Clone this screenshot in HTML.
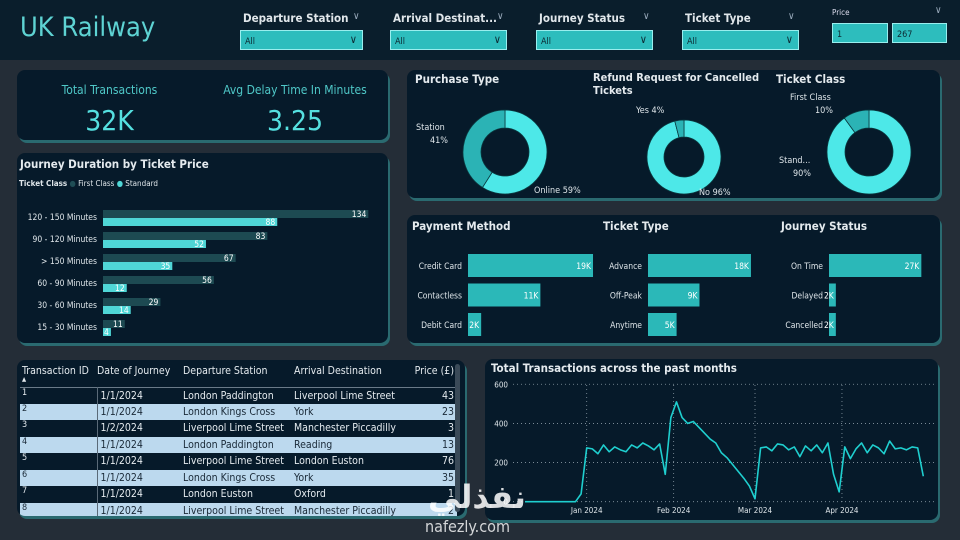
<!DOCTYPE html>
<html><head><meta charset="utf-8">
<style>
*{box-sizing:border-box;margin:0;padding:0}
body{width:960px;height:540px;background:#242d37;font-family:"DejaVu Sans Condensed","Liberation Sans",sans-serif;color:#dfe6ea;position:relative;overflow:hidden}
.abs{position:absolute}
.panel{position:absolute;background:#061a2a;border-radius:8px;box-shadow:2px 3px 0 #2a6a70}
.header{left:0;top:0;width:960px;height:60px;background:#0a1e2c}
.slicer-label{position:absolute;font-size:11.5px;font-weight:bold;color:#e0e6ea}
.slicer-box{position:absolute;height:20px;background:#2dbdbd;border:1px solid #9ee;font-size:9px;color:#0b2a33;padding:6px 0 0 4px}
.slicer-box span{position:absolute;right:5px;top:2px;font-size:11px;color:#0b2a33}
.chev{position:absolute;font-size:10px;color:#9ab}
.title{position:absolute;font-size:11.5px;font-weight:bold;color:#e4eaee}
svg text{font-family:"DejaVu Sans Condensed","Liberation Sans",sans-serif}
table{border-collapse:collapse;font-size:10.5px}
</style></head><body>
<div class="abs header"></div>
<div class="abs" style="left:20px;top:12px;font-size:27px;color:#5ed3d3">UK Railway</div>

<div class="slicer-label" style="left:243px;top:11px">Departure Station</div>
<div class="chev" style="left:353px;top:11px">∨</div>
<div class="slicer-box" style="left:240px;top:30px;width:123px">All<span>∨</span></div>
<div class="slicer-label" style="left:393px;top:11px">Arrival Destinat...</div>
<div class="chev" style="left:497px;top:11px">∨</div>
<div class="slicer-box" style="left:390px;top:30px;width:117px">All<span>∨</span></div>
<div class="slicer-label" style="left:539px;top:11px">Journey Status</div>
<div class="chev" style="left:643px;top:11px">∨</div>
<div class="slicer-box" style="left:536px;top:30px;width:117px">All<span>∨</span></div>
<div class="slicer-label" style="left:685px;top:11px">Ticket Type</div>
<div class="chev" style="left:788px;top:11px">∨</div>
<div class="slicer-box" style="left:682px;top:30px;width:117px">All<span>∨</span></div>
<div class="abs" style="left:832px;top:8px;font-size:8px;color:#dde">Price</div>
<div class="chev" style="left:935px;top:5px">∨</div>
<div class="slicer-box" style="left:832px;top:23px;width:56px">1</div>
<div class="slicer-box" style="left:892px;top:23px;width:55px">267</div>

<div class="panel" style="left:17px;top:70px;width:371px;height:70px">
  <div class="abs" style="left:0;width:185px;top:13px;text-align:center;font-size:12px;color:#4fc8c8">Total Transactions</div>
  <div class="abs" style="left:0;width:185px;top:34px;text-align:center;font-size:28px;color:#55e0e0">32K</div>
  <div class="abs" style="left:185px;width:186px;top:13px;text-align:center;font-size:12px;color:#4fc8c8">Avg Delay Time In Minutes</div>
  <div class="abs" style="left:185px;width:186px;top:34px;text-align:center;font-size:28px;color:#55e0e0">3.25</div>
</div>

<div class="panel" style="left:17px;top:153px;width:371px;height:190px">
  <div class="title" style="left:3px;top:4px">Journey Duration by Ticket Price</div>
  <div class="abs" style="left:2px;top:26px;font-size:8px"><b>Ticket Class</b> <span style="color:#1f4d55">●</span> First Class <span style="color:#4fd6d6">●</span> Standard</div>
</div>
<div class="panel" style="left:407px;top:70px;width:533px;height:128px">
  <div class="title" style="left:8px;top:2px">Purchase Type</div>
  <div class="title" style="left:186px;top:1px;line-height:13px;font-size:11px">Refund Request for Cancelled<br>Tickets</div>
  <div class="title" style="left:369px;top:2px">Ticket Class</div>
</div>
<div class="panel" style="left:407px;top:215px;width:533px;height:128px">
  <div class="title" style="left:5px;top:4px">Payment Method</div>
  <div class="title" style="left:196px;top:4px">Ticket Type</div>
  <div class="title" style="left:374px;top:4px">Journey Status</div>
</div>

<div class="panel" style="left:17px;top:360px;width:448px;height:156px;overflow:hidden">
  <table id="tbl" style="position:absolute;left:3px;top:5px;width:437px"></table>
  <div class="abs" style="left:438px;top:4px;width:5px;height:148px;background:#3a4a58;border-radius:3px"></div>
</div>

<div class="panel" style="left:485px;top:359px;width:453px;height:161px">
  <div class="title" style="left:6px;top:2px">Total Transactions across the past months</div>
</div>

<svg id="svg" class="abs" style="left:0;top:0" width="960" height="540"></svg>

<div class="abs" style="left:428px;top:478px;font-size:32px;font-weight:bold;color:rgba(255,255,255,0.85);font-family:'DejaVu Sans',sans-serif">نفذلي</div>
<div class="abs" style="left:425px;top:517px;font-size:16px;color:rgba(255,255,255,0.8)">nafezly.com</div>

<script>
const durCats=["120 - 150 Minutes","90 - 120 Minutes","> 150 Minutes","60 - 90 Minutes","30 - 60 Minutes","15 - 30 Minutes"];
const durFirst=[134,83,67,56,29,11];
const durStd=[88,52,35,12,14,4];
const purchaseLabels=["Online","Station"];const purchaseVals=[59,41];
const refundLabels=["No","Yes"];const refundVals=[96,4];
const classLabels=["Standard","First Class"];const classVals=[90,10];
const payCats=["Credit Card","Contactless","Debit Card"];const payVals=[19,11,2];
const typeCats=["Advance","Off-Peak","Anytime"];const typeVals=[18,9,5];
const statusCats=["On Time","Delayed","Cancelled"];const statusVals=[27,2,2];
const lineVals=[0,0,0,0,0,0,0,0,0,0,40,275,270,245,290,255,280,265,255,290,275,300,285,265,295,140,430,510,430,400,410,380,350,320,300,250,225,190,155,120,80,15,275,280,260,295,290,265,280,230,285,260,290,250,300,140,50,280,220,270,300,250,290,275,245,310,270,275,265,280,275,130];
const yTicks=[0,200,400,600];
const monthLabels=["Jan 2024","Feb 2024","Mar 2024","Apr 2024"];
const monthDays=[22,53,82,113];
const rows=[["1","1/1/2024","London Paddington","Liverpool Lime Street","43"],["2","1/1/2024","London Kings Cross","York","23"],["3","1/2/2024","Liverpool Lime Street","Manchester Piccadilly","3"],["4","1/1/2024","London Paddington","Reading","13"],["5","1/1/2024","Liverpool Lime Street","London Euston","76"],["6","1/1/2024","London Kings Cross","York","35"],["7","1/1/2024","London Euston","Oxford","1"],["8","1/1/2024","Liverpool Lime Street","Manchester Piccadilly","2"]];

const NS="http://www.w3.org/2000/svg";const svg=document.getElementById('svg');
function el(t,a,p){const e=document.createElementNS(NS,t);for(const k in a)e.setAttribute(k,a[k]);(p||svg).appendChild(e);return e}
function txt(x,y,s,size,fill,anchor,name){const t=el('text',{x:x,y:y,'font-size':size,fill:fill,'text-anchor':anchor||'start'});t.textContent=s;

return t}

const dx=v=>103+v*1.98;
durCats.forEach((c,i)=>{const y0=210+i*22;
 txt(97,y0+10,c,8.5,'#dfe6ea','end','duration-category-label');
 const b1=el('rect',{x:103,y:y0,width:dx(durFirst[i])-103,height:8,fill:'#1d4a52'});
 
 
 const b2=el('rect',{x:103,y:y0+8,width:dx(durStd[i])-103,height:8,fill:'#4fd6d6'});
 
 
 txt(dx(durFirst[i])-2,y0+7,String(durFirst[i]),8.5,'#fff','end','value-label-first');
 txt(dx(durStd[i])-2,y0+15,String(durStd[i]),8.5,'#fff','end','value-label-standard');
});

function donut(cx,cy,R,r,vals,cols,name){let tot=vals.reduce((a,b)=>a+b,0),a0=-Math.PI/2;
 vals.forEach((v,i)=>{const a1=a0+v/tot*2*Math.PI,lg=(a1-a0)>Math.PI?1:0;
  const p=`M${cx+R*Math.cos(a0)},${cy+R*Math.sin(a0)} A${R},${R} 0 ${lg} 1 ${cx+R*Math.cos(a1)},${cy+R*Math.sin(a1)} L${cx+r*Math.cos(a1)},${cy+r*Math.sin(a1)} A${r},${r} 0 ${lg} 0 ${cx+r*Math.cos(a0)},${cy+r*Math.sin(a0)}Z`;
  const s=el('path',{d:p,fill:cols[i],stroke:'#0a3a40','stroke-width':0.8});
  
  
  a0=a1;});}
const cL='#4de8e8',cD='#2bb3b5';
donut(505,152,42,24,purchaseVals,[cL,cD],'purchase-type');
donut(684,157,37,20,refundVals,[cL,cD],'refund');
donut(869,152,42,24,classVals,[cL,cD],'ticket-class');
txt(416,130,purchaseLabels[1],9,'#dfe6ea','start','station-label');txt(448,143,purchaseVals[1]+'%',9,'#dfe6ea','end','station-pct');
txt(534,193,purchaseLabels[0]+' '+purchaseVals[0]+'%',9,'#dfe6ea','start','online-label');
txt(636,113,refundLabels[1]+' '+refundVals[1]+'%',9,'#dfe6ea','start','yes-label');
txt(699,195,refundLabels[0]+' '+refundVals[0]+'%',9,'#dfe6ea','start','no-label');
txt(790,100,classLabels[1],9,'#dfe6ea','start','first-class-label');txt(833,113,classVals[1]+'%',9,'#dfe6ea','end','first-class-pct');
txt(779,163,'Stand...',9,'#dfe6ea','start','standard-label');txt(811,176,classVals[0]+'%',9,'#dfe6ea','end','standard-pct');

function hbars(x0,scale,cats,vals,name){cats.forEach((c,i)=>{const y=254+i*29.5;
 txt(x0-6,y+15,c,8.5,'#dfe6ea','end',name+'-category');
 const r=el('rect',{x:x0,y:y,width:vals[i]*scale,height:23,fill:'#2bb8b8'});
 
 
 txt(x0+vals[i]*scale-2,y+15,vals[i]+'K',8.5,'#fff','end',name+'-value');});}
hbars(468,6.58,payCats,payVals,'payment-method');
hbars(648,5.72,typeCats,typeVals,'ticket-type');
hbars(829,3.42,statusCats,statusVals,'journey-status');

const lx=d=>525+d*2.805, ly=v=>501.7-v*0.1957;
yTicks.forEach(t=>{const g=el('line',{x1:513,x2:935,y1:ly(t),y2:ly(t),stroke:'#8a9aa5','stroke-dasharray':'1 3','stroke-width':0.8});
 
 
 txt(508,ly(t)+3,String(t),8,'#dfe6ea','end','y-tick-label');});
monthLabels.forEach((m,i)=>{const x=lx(monthDays[i]);
 const g=el('line',{x1:x,x2:x,y1:385,y2:502,stroke:'#8a9aa5','stroke-dasharray':'1 3','stroke-width':0.8});
 
 
 txt(x,513,m,8,'#dfe6ea','middle','x-tick-label');});
const pts=lineVals.map((v,i)=>lx(i*2)+','+ly(v)).join(' ');
const pl=el('polyline',{points:pts,fill:'none',stroke:'#1fcfcf','stroke-width':1.6,'stroke-linejoin':'round'});



const tb=document.getElementById('tbl');
let h='<tr style="color:#e4eaee;border-bottom:1px solid #6a7a88;height:22px;vertical-align:top"><th style="text-align:left;font-weight:normal;padding-left:2px">Transaction ID<div style="font-size:6px;line-height:5px">▲</div></th><th style="text-align:left;font-weight:normal">Date of Journey</th><th style="text-align:left;font-weight:normal">Departure Station</th><th style="text-align:left;font-weight:normal">Arrival Destination</th><th style="text-align:right;font-weight:normal;padding-right:3px">Price (£)</th></tr>';
rows.forEach((r,i)=>{const light=i%2==1;h+=`<tr style="height:16.5px;background:${light?'#bcd9ee':'#061a2a'};color:${light?'#1a2a38':'#e4eaee'}"><td style="padding-left:2px;width:77px;font-size:9px;vertical-align:top">${r[0]}</td><td style="width:86px;border-left:1px solid #5a6a78;padding-left:3px">${r[1]}</td><td style="width:111px">${r[2]}</td><td>${r[3]}</td><td style="text-align:right;padding-right:3px">${r[4]}</td></tr>`;});
tb.innerHTML=h;
</script>
</body></html>
